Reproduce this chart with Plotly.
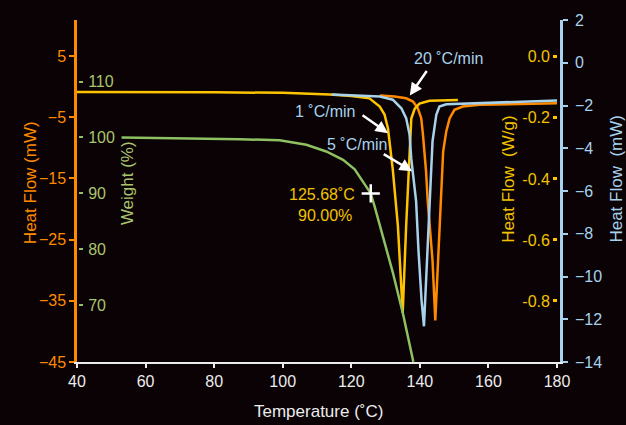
import plotly.graph_objects as go

# ---------------- data ----------------
# 1 °C/min  (Heat flow, W/g)
t_1 = [40, 60, 80, 100, 113.7, 120, 125.3, 128.3, 129.7, 130.7, 132.1, 133.6, 135.0,
       136.0, 136.8, 137.2, 137.5, 138.5, 139.9, 142.8, 146.5, 151.1]
hf_1 = [-0.115, -0.115, -0.116, -0.118, -0.123, -0.128, -0.136, -0.163, -0.189, -0.235,
        -0.369, -0.555, -0.839, -0.555, -0.369, -0.229, -0.202, -0.170, -0.153, -0.144,
        -0.142, -0.141]

# 5 °C/min  (Heat flow, mW - right axis)
t_5 = [114.3, 120, 128.3, 132.1, 134.6, 136.0, 137.0, 137.5, 138.0, 138.9, 139.6, 140.5,
       141.2, 142.0, 142.8, 143.1, 143.7, 144.8, 145.7, 147.7, 157.4, 170, 180]
hf_5 = [-1.49, -1.52, -1.58, -1.73, -2.13, -2.59, -3.36, -4.5, -5.3, -6.47, -8.79, -11.12,
        -12.33, -9.57, -6.47, -5.07, -3.67, -2.43, -2.05, -1.94, -1.89, -1.82, -1.77]

# 20 °C/min (Heat flow, mW - left axis)
t_20 = [128.3, 132.6, 136.0, 138.0, 139.4, 140.4, 140.9, 141.4, 141.8, 142.3, 143.7,
        144.5, 145.3, 146.0, 146.5, 146.8, 147.7, 148.7, 150.1, 152.5, 157.4, 170, 180]
hf_20 = [-1.45, -1.62, -1.89, -2.43, -3.52, -5.15, -7.80, -10.56, -13.81, -18.69,
         -28.45, -38.20, -28.45, -18.69, -13.81, -10.56, -7.31, -5.15, -3.78, -3.24, -2.97,
         -2.80, -2.71]

# TGA weight (%)
t_w = [53.0, 70, 87.4, 99.1, 106.9, 112.7, 117.6, 121.0, 123.4, 125.68, 126.8, 129.2,
       132.1, 135.0, 138.1]
weight = [100.0, 99.9, 99.7, 99.5, 98.7, 97.5, 96.0, 94.3, 92.2, 90.0, 87.7, 82.4, 75.9,
          68.7, 59.9]

marker_t = [125.68]
marker_w = [90.0]

x_ticks = [40, 60, 80, 100, 120, 140, 160, 180]
left_mw_ticks = [5, -5, -15, -25, -35, -45]
weight_ticks = [110, 100, 90, 80, 70]
wg_ticks = [0.0, -0.2, -0.4, -0.6, -0.8]
wg_labels = ["0.0", "-0.2", "-0.4", "-0.6", "-0.8"]
right_mw_ticks = [2, 0, -2, -4, -6, -8, -10, -12, -14]

# ---------------- style ----------------
BG = "#0a0204"
ORANGE = "#ff8a00"
YELLOW = "#ffc400"
YEL_TXT = "#f2c200"
BLUE = "#a8d2ec"
GREEN = "#8fc062"
GREEN_TXT = "#abc56e"
WHITE = "#ececec"
FONT = "Liberation Sans Narrow, Liberation Sans, Arial, sans-serif"
FS = 16

fig = go.Figure()
fig.add_trace(go.Scatter(x=t_w, y=weight, yaxis="y3", mode="lines",
                         line=dict(color=GREEN, width=2.5), hoverinfo="skip"))
fig.add_trace(go.Scatter(x=t_20, y=hf_20, yaxis="y", mode="lines",
                         line=dict(color=ORANGE, width=2.5), hoverinfo="skip"))
fig.add_trace(go.Scatter(x=t_1, y=hf_1, yaxis="y2", mode="lines",
                         line=dict(color=YELLOW, width=2.5), hoverinfo="skip"))
fig.add_trace(go.Scatter(x=t_5, y=hf_5, yaxis="y4", mode="lines",
                         line=dict(color=BLUE, width=2.5), hoverinfo="skip"))
fig.add_trace(go.Scatter(x=marker_t, y=marker_w, yaxis="y3", mode="markers",
                         marker=dict(symbol="cross-thin", size=13,
                                     line=dict(color="white", width=2.5)),
                         hoverinfo="skip"))

common = dict(showgrid=False, zeroline=False, fixedrange=True)

fig.update_layout(
    width=626, height=425,
    margin=dict(l=77, r=66, t=18, b=63),
    paper_bgcolor=BG, plot_bgcolor=BG,
    showlegend=False,
    font=dict(family=FONT, size=FS, color=WHITE),
    xaxis=dict(range=[40, 180.875], tickvals=x_ticks, showline=True, linecolor=WHITE,
               linewidth=2, ticks="outside", ticklen=4, tickwidth=2, tickcolor=WHITE,
               tickfont=dict(color=WHITE, size=FS), **common),
    yaxis=dict(range=[-45, 10.9], tickvals=left_mw_ticks, side="left", showline=True,
               linecolor=ORANGE, linewidth=2.5, ticks="outside", ticklen=5, tickwidth=2,
               tickcolor=ORANGE, tickfont=dict(color=ORANGE, size=FS), **common),
    yaxis2=dict(range=[-1.0, 0.1208], tickvals=wg_ticks, ticktext=wg_labels,
                overlaying="y", side="left", anchor="free", position=0.994,
                showline=False, ticks="outside", ticklen=4, tickwidth=3, tickcolor=YELLOW,
                ticklabelstandoff=0, tickfont=dict(color=YEL_TXT, size=FS), **common),
    yaxis3=dict(range=[59.87, 121.0], tickvals=weight_ticks, overlaying="y", side="right",
                anchor="free", position=0.002, showline=False, ticks="outside",
                ticklen=4, tickwidth=2, tickcolor=GREEN, ticklabelstandoff=2,
                tickfont=dict(color=GREEN_TXT, size=FS), **common),
    yaxis4=dict(range=[-14, 2], tickvals=right_mw_ticks, overlaying="y", side="right",
                anchor="x", showline=True, linecolor=BLUE, linewidth=2.5,
                ticks="outside", ticklen=5, tickwidth=2, tickcolor=BLUE,
                ticklabelstandoff=4, tickfont=dict(color=BLUE, size=FS), **common),
)

ann = []
def label(text, x, y, color, angle=0, size=FS):
    ann.append(dict(text=text, x=x, y=y, xref="paper", yref="paper", showarrow=False,
                    textangle=angle, font=dict(color=color, size=size, family=FONT),
                    xanchor="center", yanchor="middle"))

def arrow(x, y, ax, ay):
    ann.append(dict(text="", x=x, y=y, xref="paper", yref="paper", ax=ax, ay=ay,
                    showarrow=True, arrowcolor="white", arrowwidth=2.5, arrowhead=2,
                    arrowsize=1))

# axis titles
label("Heat Flow (mW)", -0.0973, 0.523, ORANGE, -90, 17)
label("Weight (%)", 0.1035, 0.523, GREEN_TXT, -90, 17)
label("Heat Flow  (W/g)", 0.892, 0.535, YEL_TXT, -90, 17)
label("Heat Flow  (mW)", 1.115, 0.535, BLUE, -90, 17)
label("Temperature (˚C)", 0.499, -0.145, WHITE, 0, 17)

# curve labels
label("20 ˚C/min", 0.770, 0.887, BLUE)
arrow(0.689, 0.779, 18, -26)
label("1 ˚C/min", 0.513, 0.733, BLUE)
arrow(0.644, 0.669, -27, -19)
label("5 ˚C/min", 0.580, 0.637, BLUE)
arrow(0.694, 0.558, -30, -18)

label("125.68˚C", 0.507, 0.491, YEL_TXT)
label("90.00%", 0.513, 0.427, YEL_TXT)

fig.update_layout(annotations=ann)
fig.write_html("out.html")
